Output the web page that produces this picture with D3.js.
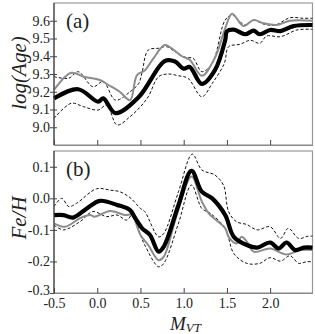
<!DOCTYPE html>
<html>
<head>
<meta charset="utf-8">
<script src="https://cdn.jsdelivr.net/npm/d3@7"></script>
<style>
  body { margin: 0; background: #fff; }
  svg text { font-family: "Liberation Serif", "Times New Roman", Times, "DejaVu Serif", serif !important; fill: #222; }
</style>
</head>
<body>
<svg class="canvas" width="315" height="334"></svg>
<script>
// x = M_VT, y = value
var ageMean = [[-0.50,9.163],[-0.22,9.214],[0.01,9.144],[0.07,9.163],[0.21,9.080],[0.48,9.170],
  [0.78,9.373],[0.90,9.370],[1.00,9.330],[1.07,9.340],[1.21,9.244],[1.36,9.320],[1.48,9.490],
  [1.50,9.540],[1.58,9.550],[1.71,9.524],[1.81,9.544],[1.88,9.524],[2.00,9.548],[2.12,9.542],
  [2.27,9.570],[2.49,9.576]];
var ageGray = [[-0.50,9.210],[-0.30,9.307],[-0.16,9.285],[0.03,9.266],[0.13,9.238],[0.26,9.200],
  [0.38,9.153],[0.46,9.294],[0.55,9.320],[0.65,9.388],[0.78,9.463],[0.86,9.445],[0.98,9.400],
  [1.07,9.380],[1.21,9.290],[1.36,9.390],[1.48,9.557],[1.56,9.640],[1.69,9.570],[1.81,9.604],
  [1.92,9.586],[2.08,9.576],[2.23,9.600],[2.49,9.600]];
var ageHigh = [[-0.50,9.285],[-0.33,9.276],[-0.22,9.313],[-0.05,9.228],[0.07,9.257],[0.21,9.153],
  [0.38,9.200],[0.48,9.247],[0.52,9.313],[0.59,9.435],[0.71,9.445],[0.80,9.454],[0.90,9.426],
  [1.02,9.394],[1.11,9.388],[1.21,9.313],[1.33,9.360],[1.48,9.604],[1.56,9.632],[1.65,9.595],
  [1.71,9.576],[1.81,9.604],[1.92,9.582],[2.06,9.576],[2.23,9.617],[2.38,9.614],[2.49,9.614]];
var ageLow = [[-0.50,9.050],[-0.30,9.135],[-0.16,9.116],[0.01,9.097],[0.11,9.125],[0.23,9.013],
  [0.38,9.060],[0.50,9.116],[0.59,9.172],[0.71,9.285],[0.82,9.300],[0.94,9.290],[1.05,9.276],
  [1.21,9.172],[1.33,9.247],[1.47,9.360],[1.52,9.454],[1.65,9.467],[1.77,9.490],[1.88,9.473],
  [1.96,9.514],[2.12,9.510],[2.31,9.548],[2.49,9.552]];

var fehMean = [[-0.50,-0.053],[-0.39,-0.053],[-0.28,-0.061],[-0.12,-0.032],[0.03,-0.008],[0.23,-0.021],
  [0.38,-0.037],[0.44,-0.063],[0.52,-0.095],[0.61,-0.116],[0.71,-0.169],[0.77,-0.153],[0.94,-0.021],
  [1.09,0.087],[1.21,0.021],[1.33,0.000],[1.48,-0.053],[1.58,-0.122],[1.73,-0.148],[1.85,-0.156],
  [2.00,-0.140],[2.10,-0.159],[2.19,-0.140],[2.29,-0.164],[2.39,-0.156],[2.49,-0.156]];
var fehGray = [[-0.50,-0.079],[-0.37,-0.090],[-0.20,-0.063],[-0.08,-0.053],[-0.03,-0.058],[0.15,-0.040],
  [0.32,-0.053],[0.40,-0.053],[0.50,-0.116],[0.59,-0.148],[0.71,-0.196],[0.77,-0.185],[0.92,-0.053],
  [1.09,0.069],[1.21,-0.010],[1.29,-0.048],[1.48,-0.095],[1.52,-0.122],[1.61,-0.143],[1.67,-0.122],
  [1.73,-0.137],[1.81,-0.169],[2.00,-0.159],[2.19,-0.178],[2.35,-0.164],[2.49,-0.164]];
var fehHigh = [[-0.50,-0.026],[-0.41,0.000],[-0.33,-0.026],[-0.24,-0.016],[-0.01,0.030],[0.15,0.026],
  [0.26,0.021],[0.38,0.002],[0.50,-0.032],[0.55,-0.042],[0.71,-0.122],[0.77,-0.111],[0.94,0.021],
  [1.10,0.140],[1.21,0.090],[1.36,0.074],[1.46,0.042],[1.52,-0.042],[1.61,-0.074],[1.73,-0.083],
  [1.85,-0.100],[2.00,-0.090],[2.12,-0.127],[2.21,-0.095],[2.33,-0.127],[2.44,-0.120],[2.49,-0.120]];
var fehLow = [[-0.50,-0.085],[-0.39,-0.100],[-0.20,-0.074],[-0.05,-0.042],[0.11,-0.058],[0.23,-0.053],
  [0.34,-0.069],[0.42,-0.048],[0.50,-0.116],[0.55,-0.148],[0.71,-0.217],[0.77,-0.206],[0.94,-0.079],
  [1.09,0.042],[1.21,-0.032],[1.31,-0.048],[1.48,-0.095],[1.58,-0.175],[1.73,-0.206],[1.88,-0.206],
  [2.00,-0.188],[2.12,-0.199],[2.23,-0.182],[2.33,-0.206],[2.42,-0.201],[2.49,-0.201]];

var xTicks = [-0.5, 0.0, 0.5, 1.0, 1.5, 2.0];
var ageTicks = [9.0, 9.1, 9.2, 9.3, 9.4, 9.5, 9.6];
var fehTicks = [-0.3, -0.2, -0.1, 0.0, 0.1];

var serif = "'Liberation Serif', 'Times New Roman', Times, 'DejaVu Serif', serif";
var svg = d3.select('.canvas');
var left = 54, right = 312.5;

var x = d3.scaleLinear().domain([-0.5, 2.49]).range([left, right]);

function fmt(d) { return d3.format(".1f")(d).replace("\u2212", "-"); }

function panel(yDomain, top, bottom, ticks, series, tag, title, titleY, showX) {
    var y = d3.scaleLinear().domain(yDomain).range([bottom, top]);
    var g = svg.append("g");

    // frame
    g.append("rect")
        .attr("x", left).attr("y", top)
        .attr("width", right - left).attr("height", bottom - top)
        .style("fill", "none").style("stroke", "#999").style("stroke-width", 1.2);

    var line = d3.line()
        .x(function(d) { return x(d[0]); })
        .y(function(d) { return y(d[1]); })
        .curve(d3.curveCatmullRom.alpha(0.5));

    g.append("path").datum(series[2]).attr("d", line)
        .style("fill", "none").style("stroke", "#111").style("stroke-width", 1)
        .style("stroke-dasharray", "3,2");
    g.append("path").datum(series[3]).attr("d", line)
        .style("fill", "none").style("stroke", "#111").style("stroke-width", 1)
        .style("stroke-dasharray", "3,2");
    g.append("path").datum(series[1]).attr("d", line)
        .style("fill", "none").style("stroke", "#8c8c8c").style("stroke-width", 2);
    g.append("path").datum(series[0]).attr("d", line)
        .style("fill", "none").style("stroke", "#000").style("stroke-width", 4.2)
        .style("stroke-linejoin", "round");

    // left axis
    var ya = g.append("g")
        .attr("transform", "translate(" + left + ",0)")
        .call(d3.axisLeft(y).tickValues(ticks).tickSize(4).tickFormat(fmt));
    ya.attr("font-family", serif).attr("font-size", 14);
    ya.select(".domain").style("stroke", "#444").style("stroke-width", 1.2)
        .attr("d", "M0," + top + "V" + bottom);
    ya.selectAll(".tick line").attr("x1", 3).attr("x2", -4).style("stroke", "#444");
    ya.selectAll(".tick text").style("fill", "#222").attr("x", -4)
        .attr("y", function(d) { return d === -0.3 ? -3 : 0; });

    // bottom axis, ticks pointing inward
    var xa = g.append("g")
        .attr("transform", "translate(0," + bottom + ")")
        .call(d3.axisBottom(x).tickValues(xTicks).tickSize(0)
              .tickFormat(function(d) { return showX ? fmt(d) : ""; }));
    xa.attr("font-family", serif).attr("font-size", 14);
    xa.select(".domain").style("stroke", "#888").style("stroke-width", 1.2);
    xa.selectAll(".tick line").attr("y1", 0).attr("y2", -5).style("stroke", "#444");
    xa.selectAll(".tick text").style("fill", "#222").attr("y", 5);

    g.append("text").attr("x", 66).attr("y", top + 25)
        .attr("font-family", serif)
        .style("font-size", "21px").text(tag);

    g.append("text")
        .attr("transform", "translate(26," + titleY + ") rotate(-90)")
        .attr("text-anchor", "middle")
        .attr("font-family", serif)
        .style("font-size", "21px").style("font-style", "italic")
        .text(title);
}

panel([8.9, 9.7], 3, 145, ageTicks, [ageMean, ageGray, ageHigh, ageLow], "(a)", "log(Age)", 73, false);
panel([-0.3, 0.15], 151, 293, fehTicks, [fehMean, fehGray, fehHigh, fehLow], "(b)", "Fe/H", 218, true);

var xl = svg.append("text").attr("x", 170).attr("y", 330)
    .attr("font-family", serif)
    .style("font-size", "19px").style("font-style", "italic");
xl.append("tspan").text("M");
xl.append("tspan").attr("dy", 2).style("font-size", "13px").text("VT");
</script>
</body>
</html>
